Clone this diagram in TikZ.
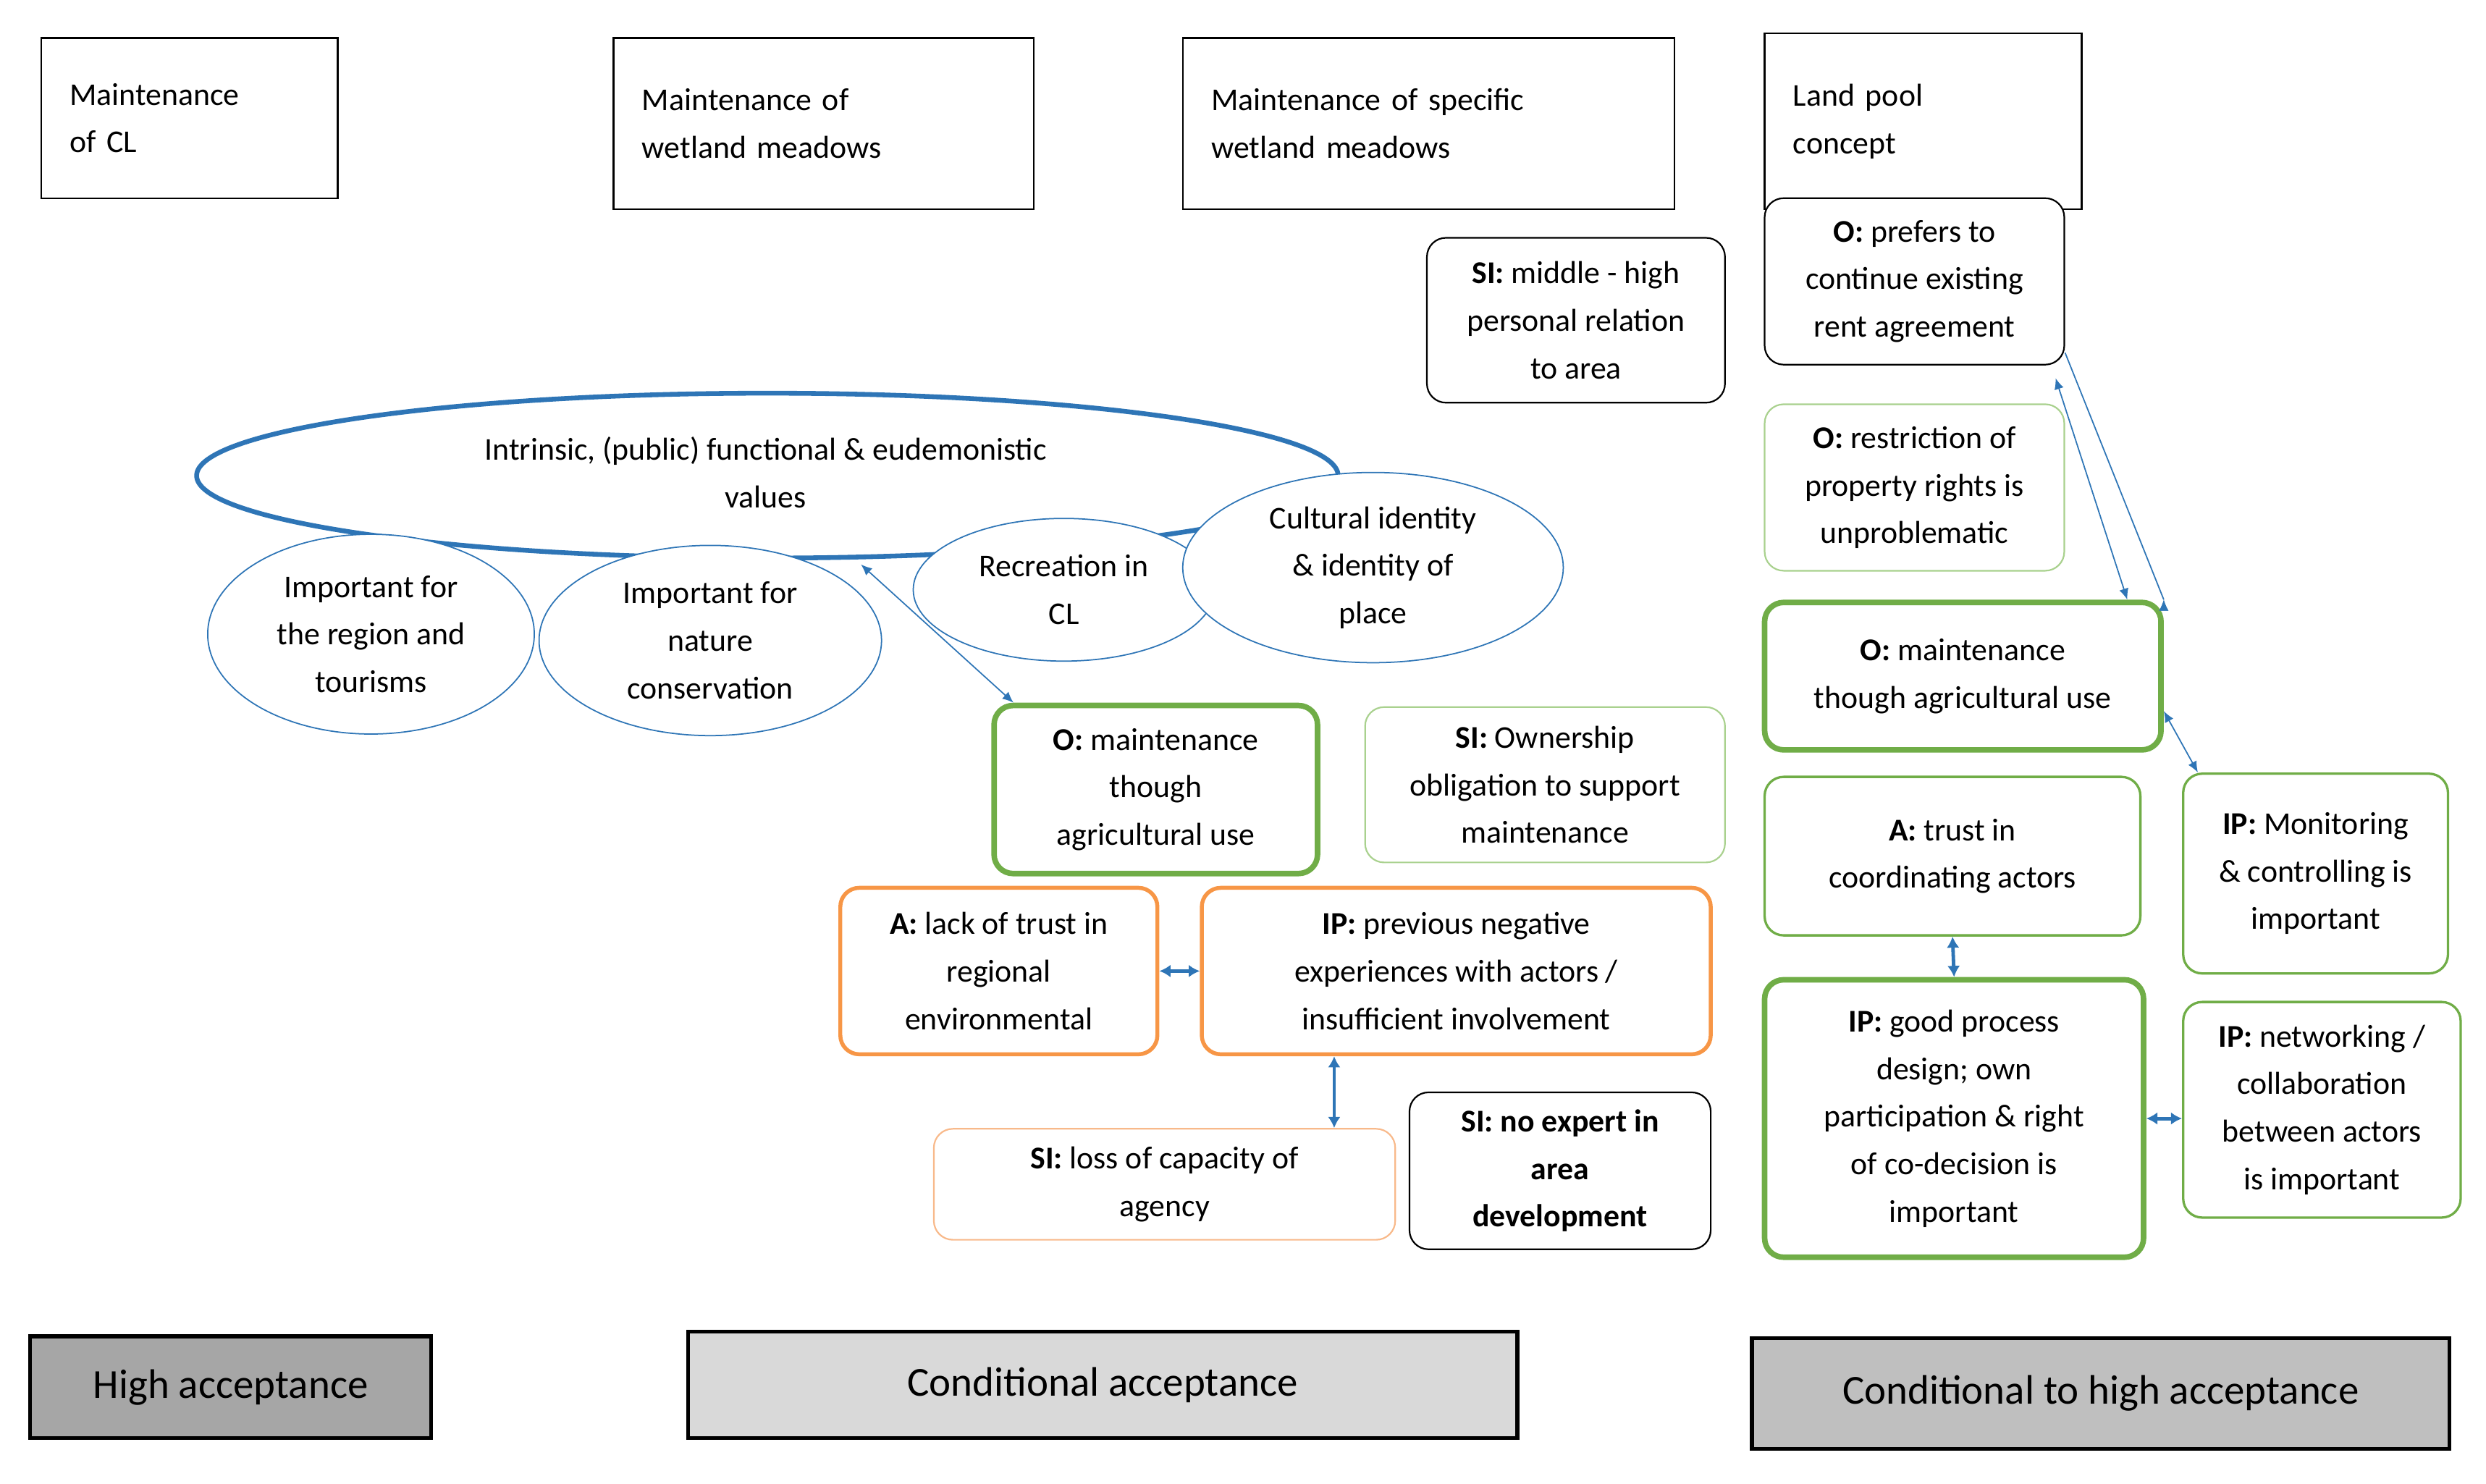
\documentclass[tikz,border=0pt]{standalone}
\usepackage{fontspec}
\setmainfont{Carlito}
\usetikzlibrary{shapes.geometric,arrows.meta}
\definecolor{bl}{HTML}{2E75B6}
\definecolor{gr}{HTML}{70AD47}
\definecolor{lgr}{HTML}{A9D18E}
\definecolor{org}{HTML}{F79646}
\definecolor{lorg}{HTML}{F8B98A}
\begin{document}
\begin{tikzpicture}[x=1pt,y=-1pt,
  every node/.style={font=\fontsize{20}{30}\selectfont},
  top/.style={draw,line width=1pt,align=left,inner xsep=18pt,anchor=center},
  rb/.style={draw,rounded corners=12pt,align=center,inner sep=2pt},
  blk/.style={rb,line width=1pt},
  tg/.style={rb,draw=gr,line width=3.5pt},
  lg/.style={rb,draw=lgr,line width=1pt},
  og/.style={rb,draw=org,line width=2.5pt},
  lo/.style={rb,draw=lorg,line width=1pt},
  ell/.style={ellipse,draw=bl,line width=0.8pt,fill=white,align=center,inner sep=0pt},
  acc/.style={draw,line width=2.5pt,font=\fontsize{26}{30}\selectfont},
  ar/.style={bl,line width=0.8pt,{Latex[length=7pt,width=6pt]}-{Latex[length=7pt,width=6pt]}},
  art/.style={bl,line width=2.2pt,{Latex[length=7pt,width=8pt]}-{Latex[length=7pt,width=8pt]}}]
\useasboundingbox (0,0) rectangle (1568,936);
% top headers
\node[top,minimum width=187pt,minimum height=101pt,text width=151pt] (t1) at (119.5,74.5) {Maintenance\\of CL};
\node[top,minimum width=265pt,minimum height=108pt,text width=229pt] (t2) at (519.5,78) {Maintenance of\\wetland meadows};
\node[top,minimum width=310pt,minimum height=108pt,text width=274pt] (t3) at (901,78) {Maintenance of specific\\wetland meadows};
\node[top,minimum width=200pt,minimum height=111pt,text width=164pt,align=left] (t4) at (1213,76.5) {Land pool\\concept\\[4pt]};
% ellipses
\node[ellipse,draw=bl,line width=3pt,minimum width=720pt,minimum height=104pt,align=center] (big) at (484,300) {};
\node[align=center] (bigt) at (483,298) {Intrinsic, (public) functional \& eudemonistic\\values};
\node[ell,minimum width=206pt,minimum height=126pt] (e1) at (234,400) {Important for\\the region and\\tourisms};
\node[ell,minimum width=216pt,minimum height=120pt] (e2) at (448,404) {Important for\\nature\\conservation};
\node[ell,minimum width=190pt,minimum height=90pt] (e3) at (671,372) {Recreation in\\CL};
\node[ell,minimum width=240pt,minimum height=120pt] (e4) at (866,358) {Cultural identity\\\& identity of\\place};
% boxes
\node[blk,minimum width=188pt,minimum height=104pt] (sim) at (994,202) {\textbf{SI:} middle - high\\personal relation\\to area};
\node[blk,fill=white,minimum width=189pt,minimum height=105pt] (opr) at (1207.5,177.5) {\textbf{O:} prefers to\\continue existing\\rent agreement};
\node[lg,minimum width=189pt,minimum height=105pt] (ors) at (1207.5,307.5) {\textbf{O:} restriction of\\property rights is\\unproblematic};
\node[tg,minimum width=250pt,minimum height=93pt] (omr) at (1238,426.5) {\textbf{O:} maintenance\\though agricultural use};
\node[rb,draw=gr,line width=1.5pt,minimum width=167pt,minimum height=126pt] (ipm) at (1460.5,551) {\textbf{IP:} Monitoring\\\& controlling is\\important};
\node[rb,draw=gr,line width=1.5pt,minimum width=237pt,minimum height=100pt] (atr) at (1231.5,540) {\textbf{A:} trust in\\coordinating actors};
\node[tg,minimum width=239pt,minimum height=175pt] (ipg) at (1232.5,705.5) {\textbf{IP:} good process\\design; own\\participation \& right\\of co-decision is\\important};
\node[rb,draw=gr,line width=1.5pt,minimum width=175pt,minimum height=136pt] (ipn) at (1464.5,700) {\textbf{IP:} networking /\\collaboration\\between actors\\is important};
\node[tg,minimum width=204pt,minimum height=106pt] (omm) at (729,498) {\textbf{O:} maintenance\\though\\agricultural use};
\node[lg,minimum width=227pt,minimum height=98pt] (sio) at (974.5,495) {\textbf{SI:} Ownership\\obligation to support\\maintenance};
\node[og,minimum width=200pt,minimum height=105pt] (alk) at (630,612.5) {\textbf{A:} lack of trust in\\regional\\environmental};
\node[og,minimum width=321pt,minimum height=105pt] (ipp) at (918.5,612.5) {\textbf{IP:} previous negative\\experiences with actors /\\insufficient involvement};
\node[lo,minimum width=291pt,minimum height=70pt] (sil) at (734.5,747) {\textbf{SI:} loss of capacity of\\agency};
\node[blk,minimum width=190pt,minimum height=99pt,font=\fontsize{20}{30}\selectfont\bfseries] (sin) at (984,738.5) {SI: no expert in\\area\\development};
% acceptance
\node[acc,fill=black!35,minimum width=253pt,minimum height=64pt] (high) at (145.5,875) {High acceptance};
\node[acc,fill=black!15,minimum width=523pt,minimum height=67pt] (cond) at (695.5,873.5) {Conditional acceptance};
\node[acc,fill=black!25,minimum width=440pt,minimum height=70pt] (condh) at (1325,879) {Conditional to high acceptance};
% connectors
\coordinate (bp) at (543,356);
\draw[ar] (opr.south east) ++(0,-8) -- (omr.north east) ++(0,0);
\draw[ar] ([xshift=-6pt,yshift=-8pt]opr.south east) -- ([xshift=-23pt]omr.north east);
\draw[ar] ([yshift=-22pt]omr.east) -- ([xshift=10pt]ipm.north west);
\draw[art] (atr.south) -- (ipg.north);
\draw[art] (ipg.east) -- (ipg.east -| ipn.west);
\draw[ar] (bp) -- ([xshift=14pt]omm.north west);
\draw[art] (alk.east) -- (ipp.west);
\draw[art] ([xshift=-77pt]ipp.south) -- ([xshift=-77pt]ipp.south |- sil.north);
\end{tikzpicture}
\end{document}
